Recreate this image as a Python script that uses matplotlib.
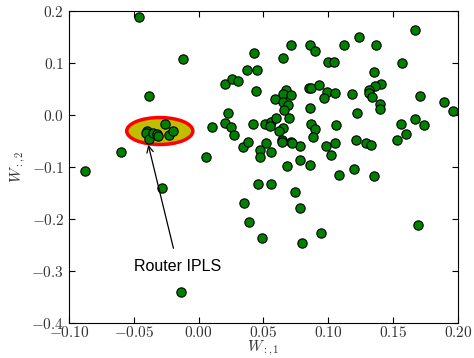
import matplotlib
matplotlib.use("Agg")
import matplotlib.pyplot as plt
from matplotlib.patches import Ellipse
from matplotlib.ticker import FuncFormatter

plt.rcParams['mathtext.fontset'] = 'cm'

# points inside the highlighted cluster (Router IPLS)
cluster_x = [-0.040, -0.041, -0.038, -0.035, -0.032, -0.031, -0.026, -0.023, -0.020]
cluster_y = [-0.030, -0.034, -0.046, -0.034, -0.036, -0.041, -0.016, -0.039, -0.031]

# all the other points
other_x = [-0.046, -0.012, -0.038, -0.060, 0.010, 0.006, 0.020, 0.026, 0.030, 0.037,
           0.043, 0.045, 0.044, 0.023, 0.020, 0.025, 0.027, 0.042, 0.051, 0.034,
           0.038, 0.047, 0.047, 0.052, 0.071, 0.086, 0.090, 0.065, 0.100, 0.104,
           0.067, 0.065, 0.071, 0.059, 0.085, 0.087, 0.093, 0.099, 0.097, 0.065,
           0.069, 0.066, 0.086, 0.056, 0.055, 0.060, 0.070, 0.065, 0.087, 0.090,
           0.167, 0.124, 0.112, 0.137, 0.157, 0.135, 0.141, 0.136, 0.105, 0.118,
           0.131, 0.131, 0.134, 0.171, 0.189, 0.196, 0.140, 0.140, 0.122, 0.106,
           0.156, 0.167, 0.174, 0.062, 0.088, 0.078, 0.071, 0.072, 0.064, 0.064,
           0.056, 0.078, 0.098, 0.102, 0.105, 0.121, 0.129, 0.133, 0.153, 0.160,
           0.068, 0.086, 0.046, 0.056, 0.074, 0.035, 0.078, 0.039, 0.094, 0.049,
           0.080, 0.108, 0.120, 0.135, 0.169, -0.088, -0.028, -0.014]
other_y = [0.190, 0.108, 0.037, -0.070, -0.022, -0.080, 0.061, 0.070, 0.065, 0.087,
           0.119, 0.087, 0.046, 0.005, -0.015, -0.022, -0.038, -0.017, -0.017, -0.061,
           -0.052, -0.068, -0.081, -0.053, 0.135, 0.135, 0.123, 0.111, 0.102, 0.102,
           0.048, 0.040, 0.039, 0.032, 0.052, 0.052, 0.059, 0.045, 0.034, 0.025,
           0.020, 0.010, 0.013, -0.014, -0.020, -0.005, -0.006, -0.024, -0.017, -0.027,
           0.165, 0.151, 0.135, 0.136, 0.101, 0.083, 0.061, 0.057, 0.042, 0.041,
           0.048, 0.043, 0.035, 0.037, 0.025, 0.009, 0.021, 0.011, 0.004, -0.019,
           -0.017, -0.007, -0.019, -0.030, -0.042, -0.060, -0.051, -0.054, -0.048, -0.051,
           -0.070, -0.086, -0.059, -0.076, -0.053, -0.048, -0.053, -0.058, -0.048, -0.037,
           -0.097, -0.096, -0.132, -0.132, -0.148, -0.170, -0.179, -0.205, -0.227, -0.236,
           -0.247, -0.116, -0.103, -0.118, -0.211, -0.107, -0.140, -0.341]

x_ticks = [-0.10, -0.05, 0.00, 0.05, 0.10, 0.15, 0.20]
y_ticks = [-0.4, -0.3, -0.2, -0.1, 0.0, 0.1, 0.2]

fig = plt.figure(figsize=(4.74, 3.58), dpi=100)
ax = fig.add_axes([0.1456, 0.0986, 0.8206, 0.8694])

# highlighted region
ell = Ellipse((-0.030, -0.0305), 0.051, 0.052, facecolor=(0.75, 0.75, 0),
              edgecolor='red', linewidth=2.5, zorder=1)
ax.add_patch(ell)

ax.scatter(other_x + cluster_x, other_y + cluster_y, s=45, c=[(0, 0.5, 0)],
           edgecolors='black', linewidths=0.8, zorder=2)

ax.annotate('Router IPLS', xy=(-0.0389, -0.057), xytext=(-0.016, -0.292),
            ha='center', va='center', fontsize=11.5, family='Liberation Sans',
            arrowprops=dict(arrowstyle='->', color='black', lw=0.9,
                            shrinkA=6, shrinkB=0))

ax.set_xlim(-0.10, 0.20)
ax.set_ylim(-0.4, 0.2)
ax.set_xticks(x_ticks)
ax.set_yticks(y_ticks)
ax.xaxis.set_major_formatter(FuncFormatter(lambda v, p: '$%.2f$' % v))
ax.yaxis.set_major_formatter(FuncFormatter(lambda v, p: '$%.1f$' % v))
ax.tick_params(direction='in', top=True, right=True, length=4, labelsize=11,
               labelcolor='#333333')
ax.tick_params(axis='x', pad=2)

ax.set_xlabel('$W_{:,1}$', fontsize=11, labelpad=-1, color='#333333')
ax.set_ylabel('$W_{:,2}$', fontsize=11, labelpad=2, color='#333333')

fig.savefig('out.png', dpi=100)
